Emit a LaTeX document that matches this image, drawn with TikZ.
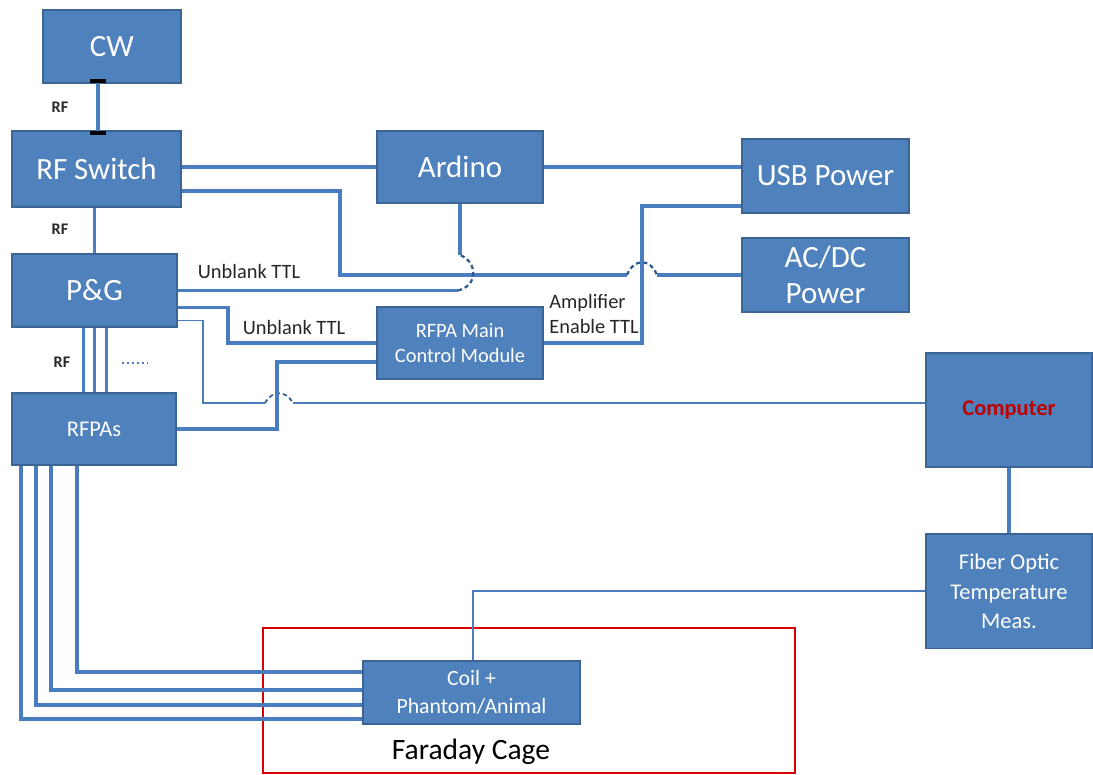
\documentclass[tikz,border=0pt]{standalone}
\usepackage{fontspec}
\setmainfont{Carlito}
\usetikzlibrary{positioning,calc}
\definecolor{boxfill}{HTML}{4F81BD}
\definecolor{boxline}{HTML}{3B6594}
\definecolor{wireblue}{HTML}{4A7DC0}
\definecolor{hopblue}{HTML}{2F5A8E}
\definecolor{cagered}{HTML}{D80000}
\definecolor{compred}{HTML}{C00000}
\tikzset{
  box/.style={draw=boxline, fill=boxfill, line width=1.2pt, text=white, align=center, inner sep=2pt},
  bigtext/.style={font=\fontsize{22}{25.5}\selectfont},
  wire/.style={draw=wireblue, line width=2.2pt},
  thinwire/.style={draw=wireblue, line width=1.3pt},
  hop/.style={draw=hopblue, line width=1.6pt, dash pattern=on 3pt off 2.2pt},
  port/.style={fill=black, inner sep=0pt, minimum width=0.42cm, minimum height=0.1cm},
  lbl/.style={text=black!85, align=left, font=\fontsize{14.5}{18}\selectfont},
  rflbl/.style={text=black!85, font=\bfseries\fontsize{11.5}{13}\selectfont},
}

\begin{document}
\begin{tikzpicture}[x=0.025cm, y=-0.025cm]
    \useasboundingbox (0,0) rectangle (1093,775);

    % boxes
    \node (cw) [box, bigtext, minimum width=3.45cm, minimum height=1.825cm] at (112,46.5) {CW};
    \node (rfswitch) [box, bigtext, minimum width=4.225cm, minimum height=1.9cm] at (96.5,169) {RF Switch};
    \node (pg) [box, bigtext, minimum width=4.125cm, minimum height=1.825cm] at (94.5,290.5) {P\&G};
    \node (rfpas) [box, font=\fontsize{16}{19}\selectfont, minimum width=4.1cm, minimum height=1.8cm] at (94,429) {RFPAs};
    \node (ardino) [box, bigtext, minimum width=4.15cm, minimum height=1.8cm] at (460,167) {Ardino};
    \node (usb) [box, bigtext, minimum width=4.175cm, minimum height=1.85cm] at (825.5,176) {USB Power};
    \node (acdc) [box, bigtext, minimum width=4.175cm, minimum height=1.85cm] at (825.5,275) {AC/DC\\Power};
    \node (rfpamain) [box, font=\fontsize{14.5}{18}\selectfont, minimum width=4.15cm, minimum height=1.8cm] at (460,343) {RFPA Main\\Control Module};
    \node (computer) [box, text=compred, font=\bfseries\fontsize{16}{19}\selectfont, minimum width=4.15cm, minimum height=2.85cm] at (1009,410) {Computer};
    \node (fiber) [box, font=\fontsize{16}{21}\selectfont, minimum width=4.15cm, minimum height=2.85cm, below=1.64cm of computer] {Fiber Optic\\Temperature\\Meas.};
    \node (cage) [draw=cagered, line width=2pt, minimum width=13.3cm, minimum height=3.625cm] at (529,700.5) {};
    \node (coil) [box, font=\fontsize{15.5}{20}\selectfont, minimum width=5.425cm, minimum height=1.575cm] at (471.5,692.5) {Coil +\\Phantom/Animal};
    \node (cagelabel) [text=black, font=\fontsize{21}{24}\selectfont] at (471,752) {Faraday Cage};

    % CW -> RF Switch
    \node (cwport) [port] at ($(rfswitch.north |- cw.south)+(1.5,-3)$) {};
    \node (swport) [port] at ($(rfswitch.north)+(1.5,3)$) {};
    \draw [wire] (cwport) -- (swport);
    \node [rflbl] at (60,107) {RF};

    % RF Switch -> P&G
    \draw [wire] (pg.north) -- (pg.north |- rfswitch.south);
    \node [rflbl] at (60,229) {RF};

    % RF Switch -> Ardino -> USB Power
    \draw [wire] (ardino.west) -- (ardino.west -| rfswitch.east);
    \draw [wire] (ardino.east) -- (ardino.east -| usb.west);

    % RF Switch -> AC/DC Power
    \draw [wire] ($(rfswitch.east)+(0,22)$) -| (340,275) -- (627,275);
    \draw [hop] (627,275) .. controls (634,258) and (650,258) .. (657,275);
    \draw [wire] (657,275) -- (acdc.west);

    % P&G -> Ardino (unblank)
    \draw [wire] (pg.east) -- (pg.east -| 458,0);
    \draw [hop] (pg.east -| 458,0) .. controls (478,286) and (478,262) .. (460,255);
    \draw [wire] (460,255) -- (ardino.south);
    \node [lbl] at (249,271) {Unblank TTL};

    % P&G -> RFPA Main Control Module
    \draw [wire] ($(pg.east)+(0,17)$) -| (228,343) -- (rfpamain.west);
    \node [lbl] at (294,327) {Unblank TTL};

    % USB Power -> RFPA Main Control Module
    \draw [wire] ($(usb.west)+(0,30)$) -| (642,343) -- (rfpamain.east);
    \node [lbl] at (594,314) {Amplifier\\Enable TTL};

    % P&G -> Computer
    \draw [thinwire] ($(pg.east)+(0,30)$) -| (203,403) -- (265,403);
    \draw [hop, line width=1.2pt] (265,403) .. controls (272,390) and (286,390) .. (293,403);
    \draw [thinwire] (293,403) -- ($(computer.west)+(0,-7)$);

    % RFPAs -> RFPA Main Control Module
    \draw [wire] (rfpas.east) -| (277,362) -- ($(rfpamain.west)+(0,19)$);

    % P&G -> RFPAs
    \foreach \dx in {-11,0,12}
        \draw [wire] ($(pg.south)+(\dx,0)$) -- ($(pg.south |- rfpas.north)+(\dx,0)$);
    \draw [wireblue, line width=1.5pt, dotted] (122,363) -- (148,363);
    \node [rflbl] at (62,362) {RF};

    % RFPAs -> Coil
    \foreach \dx/\dy in {-73/26.5, -58/12.5, -43/-2.5, -17/-20.5}
        \draw [wire] ($(rfpas.south)+(\dx,0)$) |- ($(coil.west)+(0,\dy)$);

    % Computer -> Fiber Optic -> Coil
    \draw [wire] (computer.south) -- (fiber.north);
    \draw [thinwire] (fiber.west) -| ($(coil.north)+(1.5,0)$);

\end{tikzpicture}
\end{document}
